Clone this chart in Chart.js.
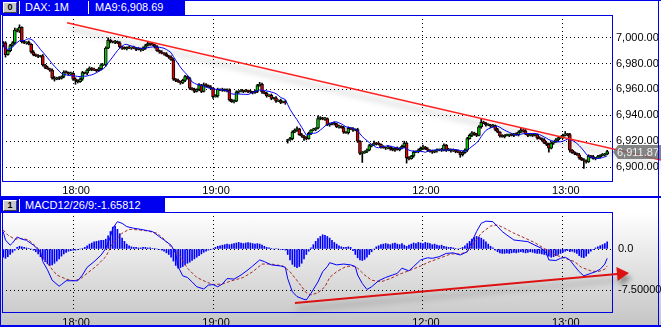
<!DOCTYPE html>
<html>
<head>
<meta charset="utf-8">
<script src="https://cdn.jsdelivr.net/npm/chart.js@4.4.1/dist/chart.umd.min.js"></script>
<style>
  html, body { margin: 0; padding: 0; background: #fff; }
  #wrap { position: relative; width: 661px; height: 327px; overflow: hidden; font-family: "Liberation Sans", Arial, sans-serif; }
  #macdBg { position: absolute; left: 0; top: 211px; width: 661px; height: 116px; background: linear-gradient(#ffffff, #c4c4c4); }
  canvas { position: absolute; left: 0; }
  .bar { position: absolute; left: 0; height: 15px; background: #0000f0; color: #fff; font-size: 11px; line-height: 15px; }
  .bar span { position: absolute; top: 0; white-space: nowrap; }
  .icon { position: absolute; left: 3px; top: 2px; width: 12px; height: 9px; background: #c8c8c8; border: 1px solid; border-color: #fff #404040 #404040 #fff; color: #000; font-size: 9px; line-height: 9px; text-align: center; font-weight: bold; }
  .sep { position: absolute; top: 1px; width: 1px; height: 13px; background: #fff; }
  .line { position: absolute; background: #0000f0; }
</style>
</head>
<body>
<div id="wrap">
  <div id="macdBg"></div>
  <canvas id="priceChart" width="661" height="197" style="top:0"></canvas>
  <canvas id="macdChart" width="661" height="130" style="top:197px"></canvas>
  <div class="bar" style="top:0;width:185px"><div class="icon">0</div><div class="sep" style="left:19px"></div><span style="left:25px">DAX: 1M</span><div class="sep" style="left:88px"></div><span style="left:95px">MA9:6,908.69</span></div>
  <div class="bar" style="top:198px;width:165px"><div class="icon">1</div><div class="sep" style="left:19px"></div><span style="left:25px">MACD12/26/9:-1.65812</span></div>
  <div class="line" style="left:0;top:0;width:661px;height:1px"></div>
  <div class="line" style="left:0;top:0;width:1px;height:327px"></div>
  <div class="line" style="left:658px;top:0;width:1px;height:327px"></div>
  <div class="line" style="left:0;top:196px;width:661px;height:2px"></div>
  <div class="line" style="left:0;top:325px;width:661px;height:2px"></div>
</div>
<script>
// 1-minute closes (index 0 = 17:30)
const closes = [
  6996, 6987, 6990, 6994, 6996, 7006, 7005, 7008, 6997, 6996,
  6996.5, 6995, 6989, 6987, 6986, 6985.5, 6986, 6979, 6977, 6976,
  6975, 6969, 6968, 6969, 6968.5, 6970, 6973.5, 6973, 6972, 6972.5,
  6968, 6967, 6966, 6968, 6973, 6972.5, 6975, 6976.5, 6975.5, 6975,
  6974.5, 6976, 6979, 6979, 6992, 6998, 6997, 6996.5, 6997, 6996,
  6993, 6992, 6991.5, 6992.5, 6992, 6992.5, 6992, 6991, 6991.5, 6990.5,
  6992, 6994, 6995.5, 6995, 6994.5, 6993, 6990, 6989, 6988, 6987.5,
  6986, 6985, 6983, 6968, 6967, 6966, 6965, 6967, 6970, 6968.5,
  6961, 6960, 6958.5, 6960, 6963.5, 6958.5, 6963.5, 6963, 6962, 6961,
  6954.5, 6955, 6960, 6959.5, 6960, 6959, 6959.5, 6952, 6950.5, 6951,
  6958, 6958.5, 6959, 6958.5, 6959, 6958.5, 6958, 6957.5, 6958.5, 6963,
  6964, 6958, 6957, 6955, 6955.5, 6953, 6953.5, 6951, 6951.5, 6950,
  6950.5, 6949.5, 6921, 6922, 6927, 6928.5, 6929.5, 6925, 6924, 6922.5,
  6922, 6926, 6928.5, 6929, 6930, 6937.5, 6938, 6937, 6937.5, 6932.5,
  6933, 6934, 6933.5, 6931, 6931.5, 6930.5, 6927, 6926.5, 6930, 6929.5,
  6928.5, 6929, 6920, 6910.5, 6911, 6912, 6913, 6916.5, 6917, 6918.5,
  6918, 6917.5, 6915.5, 6915, 6914.5, 6915.5, 6914, 6913, 6914.5, 6913.5,
  6914.5, 6916, 6918.5, 6907, 6906.5, 6908.5, 6911.5, 6912, 6913, 6914.5,
  6915.5, 6914, 6913, 6912, 6911.5, 6912.5, 6913, 6913.5, 6913, 6917,
  6913, 6913.5, 6912.5, 6913, 6912, 6911.5, 6909.5, 6911, 6913, 6922,
  6924.5, 6926.5, 6925, 6924.5, 6931, 6934.5, 6934, 6932.5, 6932.5, 6931.5,
  6932, 6929, 6927, 6924, 6923.5, 6924.5, 6924.5, 6925, 6924.5, 6925.5,
  6925, 6927, 6928.5, 6928, 6925.5, 6924.5, 6925, 6924.5, 6925, 6922.5,
  6922, 6921, 6918.5, 6917.5, 6914.5, 6918.5, 6919.5, 6921, 6922.5, 6923,
  6924.5, 6925.5, 6925, 6913, 6911, 6910.5, 6909.5, 6907, 6905.5, 6905,
  6904, 6908.5, 6908, 6906.5, 6907, 6908, 6909, 6909.5, 6910, 6911.87
];
// opening prices where a session starts (otherwise open = previous close)
const sessionOpens = { 0: 6994, 122: 6920.5 };
// wick length above / below the body, in points
const wickHi = [
  1,1,0.5,1,1,1.5,1,2,0.5,1,0.5,1,0.5,1,0.5,1,0.5,1,0.5,1,
  0.5,1,1,0.5,1,0.5,1,1,0.5,1,0.5,1,0.5,1,1,0.5,1,1,0.5,1,
  0.5,1,1,0.5,1,2,1,0.5,1,0.5,1,0.5,1,0.5,1,0.5,1,0.5,1,0.5,
  1,1,1,0.5,1,0.5,1,0.5,1,0.5,1,0.5,1,1,0.5,1,0.5,1,1,0.5,
  1,0.5,1,0.5,1,0.5,1.5,1,0.5,1,0.5,1,1,0.5,1,0.5,1,1,0.5,1,
  1,0.5,1,0.5,1,0.5,1,0.5,1,1,1.5,1,0.5,1,0.5,1,0.5,1,0.5,1,
  0.5,1,0.5,1,1,1,1.5,0.5,1,0.5,1,1,0.5,1,0.5,2,1,0.5,1,0.5,
  1,0.5,1,0.5,1,0.5,1,0.5,1,0.5,1,0.5,1,0.5,1,0.5,1,1,0.5,1.5,
  0.5,1,0.5,1,0.5,1,0.5,1,0.5,1,0.5,1,1.5,0.5,1,0.5,1,0.5,1,1,
  1.5,0.5,1,0.5,1,0.5,1,0.5,1,1,0.5,1,0.5,1,0.5,1,0.5,1,1,1,
  1,1,0.5,1,1,2.5,1,0.5,1,0.5,1,0.5,1,0.5,1,0.5,1,0.5,1,0.5,
  1,1,1.5,0.5,1,0.5,1,0.5,1,0.5,1,0.5,1,0.5,1,1,0.5,1,0.5,1,
  1,2,0.5,1,0.5,1,0.5,1,0.5,1,0.5,1,0.5,1,0.5,1,0.5,1,0.5,1
];
const wickLo = [
  1,2,0.5,1,0.5,1,0.5,1,1,0.5,1,0.5,1,1,0.5,1,0.5,1,1,0.5,
  1,1,1.5,0.5,1,0.5,1,0.5,1,0.5,1,3,1,0.5,1,0.5,1,0.5,1,0.5,
  1,0.5,1,0.5,1,0.5,1,0.5,1,0.5,1,1,0.5,1,0.5,1,0.5,1,0.5,1,
  0.5,1,0.5,1,0.5,1,0.5,1,0.5,1,0.5,1,0.5,1,1,0.5,1,0.5,1,0.5,
  1,0.5,1,0.5,1,1,0.5,1,0.5,1,1.5,0.5,1,0.5,1,0.5,1,1,0.5,1,
  0.5,1,0.5,1,0.5,1,0.5,1,0.5,1,0.5,1,0.5,1,0.5,1,0.5,1,0.5,1,
  0.5,1,2,0.5,1,0.5,1,0.5,1,2,1,0.5,1,0.5,1,0.5,1,0.5,1,0.5,
  1,0.5,1,0.5,1,0.5,1,0.5,1,0.5,1,0.5,1,1,7,0.5,1,0.5,1,0.5,
  1,0.5,1,0.5,1,0.5,1,0.5,1,0.5,1,0.5,1,4,1,0.5,1,0.5,1,0.5,
  1,0.5,1,0.5,1,0.5,1,0.5,1,0.5,1,0.5,1,0.5,1,0.5,2,1,0.5,1,
  0.5,1,0.5,1,0.5,1,0.5,1,0.5,1,0.5,1,0.5,1,0.5,1,0.5,1,0.5,1,
  0.5,1,0.5,1,0.5,1,0.5,1,0.5,1,0.5,1,0.5,1,3,0.5,1,0.5,1,0.5,
  1,0.5,1,1.5,0.5,1,0.5,1,0.5,6,1,0.5,1,0.5,1,0.5,1,0.5,1,0.5
];

const priceTicks = [6900, 6920, 6940, 6960, 6980, 7000];
const timeTickIdx = [30, 90, 180, 240];
const timeTickLabels = ['18:00', '19:00', '12:00', '13:00'];

// MACD line and signal line, sampled at these candle indexes
const macdIdx = [0,1,3,4,6,8,10,13,16,17,19,21,24,25,27,30,32,34,36,39,42,44,46,47,49,51,53,56,59,62,64,67,69,72,74,75,77,79,81,83,86,88,90,92,94,96,99,102,105,107,110,112,115,119,121,122,124,126,129,130,132,135,137,139,140,143,146,149,151,152,154,156,158,161,164,167,169,171,174,176,179,182,184,187,190,193,196,199,201,203,205,207,210,212,214,216,219,222,225,228,231,233,234,237,239,241,243,245,247,249,252,254,256,258,259];
const macdVal = [3.2,1.65,0.7,1.1,2.2,1.8,1.6,0.7,-0.5,-2.3,-3.8,-5.7,-6.8,-6.5,-5.8,-5.8,-5.8,-4.75,-3.35,-2.3,-1.1,0.1,2.25,3.8,5.0,4.7,4.1,3.8,3.6,3.35,3.2,2.25,1.65,0.7,-0.8,-3.2,-4.9,-5.2,-6.0,-6.9,-7.3,-6.6,-6.5,-6.9,-6.4,-5.4,-5.5,-4.75,-3.8,-3.1,-2.0,-2.3,-2.9,-3.1,-3.35,-5.4,-7.8,-8.7,-9.2,-9.3,-8.1,-6.0,-4.15,-3.2,-2.5,-2.9,-2.75,-2.9,-3.2,-4.75,-6.3,-7.4,-6.9,-5.8,-5.2,-4.75,-4.45,-3.5,-4.0,-3.2,-2.0,-1.6,-1.7,-1.4,-0.8,-0.7,-1.1,-0.5,1.35,3.2,4.7,5.1,5.0,4.1,3.2,2.55,1.65,1.5,1.35,0.7,0.1,-0.8,-2.0,-2.1,-1.7,-1.5,-2.0,-3.1,-4.15,-4.9,-4.45,-4.15,-3.7,-2.75,-1.7];
const signalIdx = [0,2,5,8,11,15,17,20,23,27,30,33,36,40,44,47,51,54,58,62,66,69,72,76,79,83,87,90,94,98,103,107,111,115,120,123,127,130,132,135,138,140,143,147,150,152,155,158,162,166,170,175,179,183,187,192,196,199,202,205,209,212,215,219,224,228,232,237,241,245,248,252,255,258,259];
const signalVal = [3.5,2.55,1.8,1.95,1.65,0.1,-1.4,-3.2,-4.75,-5.5,-5.8,-5.5,-4.45,-3.1,-1.4,1.05,2.9,3.6,3.5,3.3,2.9,1.8,0.4,-1.4,-3.5,-5.2,-6.0,-6.5,-6.4,-5.8,-5.2,-4.15,-2.75,-2.75,-3.1,-4.15,-6.3,-8.0,-8.4,-8.0,-6.9,-5.2,-4.15,-3.2,-3.1,-3.5,-4.75,-5.7,-6.0,-5.4,-4.6,-3.8,-3.1,-2.3,-1.7,-0.9,-0.9,-0.5,1.15,2.9,4.2,4.4,3.8,2.9,1.95,1.15,0.1,-1.1,-1.7,-2.3,-3.35,-4.0,-4.15,-3.7,-3.1];
// histogram, one value per candle
const histVal = [
  -1.5,-1.7,-1.4,-1.0,-0.6,-0.2,0.3,0.5,0.4,0.3,0.2,0.1,0,-0.2,-0.5,
  -0.9,-1.4,-1.9,-2.3,-2.7,-3.0,-2.9,-2.6,-2.2,-1.8,-1.3,-0.9,-0.6,-0.4,
  -0.3,-0.2,-0.2,-0.1,0,0.1,0.3,0.6,0.9,1.1,1.3,1.4,1.5,1.6,1.6,1.8,
  2.4,3.2,4.0,4.2,3.6,2.8,2.0,1.4,0.9,0.6,0.4,
  0.3,0.3,0.2,0.2,0.3,0.3,0.2,0.2,0.1,0.1,0,-0.1,-0.2,-0.4,-0.7,
  -1.0,-1.5,-2.2,-3.0,-3.5,-3.4,-3.2,-2.9,-2.6,-2.4,-2.1,-1.8,-1.5,-1.2,-0.9,-0.6,
  -0.4,-0.2,-0.1,0,
  0.3,0.5,0.6,0.7,0.8,0.9,0.8,0.9,1.0,1.1,1.2,1.1,1.0,1.1,1.2,1.1,1.0,0.9,1.0,0.9,0.7,
  0.5,0.3,0.2,0.1,0,0.1,0,-0.1,-0.1,-0.2,
  -1.0,-2.0,-2.8,-3.2,-3.4,-3.2,-2.6,-1.8,-1.0,-0.4,0.2,0.8,
  1.4,1.9,2.3,2.6,2.5,2.3,2.0,1.6,1.2,0.9,0.6,0.4,0.3,0.3,0.4,0.3,
  -0.3,-1.0,-1.6,-2.0,-2.1,-1.9,-1.5,-1.0,-0.5,0,
  0.4,0.6,0.8,0.9,1.0,0.9,0.8,1.0,1.1,0.9,0.8,1.0,0.7,0.5,0.7,0.9,1.1,1.0,1.2,1.1,1.0,
  1.2,1.1,1.0,0.8,0.9,0.7,0.6,0.7,0.5,0.4,0.3,0.3,0.2,0.1,0,0.1,0.3,0.6,
  1.0,1.4,1.8,2.1,2.3,2.2,2.0,1.7,1.3,0.9,0.5,0.2,
  -0.2,-0.5,-0.7,-0.8,-0.8,-0.7,-0.8,-0.7,-0.6,-0.7,-0.6,-0.5,-0.6,-0.7,-0.6,-0.5,-0.6,-0.7,-0.8,-0.8,-0.9,-1.0,-1.1,
  -1.3,-1.5,-1.4,-1.2,-1.0,-0.8,-0.6,-0.4,-0.3,-0.5,-0.4,-0.6,-0.8,
  -1.2,-1.5,-1.6,-1.3,-0.8,-0.4,-0.1,0.2,0.4,0.6,0.8,1.0,1.3
];
const macdTicks = [0, -7.5];
const macdTickLabels = ['0.0', '-7.50000'];

// hand-drawn trend lines, in data units (candle index, value)
const trendTop = [{ x: 27.4, y: 7011.6 }, { x: 282.1, y: 6905.4 }];
const trendMacd = [{ x: 125.1, y: -9.87 }, { x: 264.5, y: -4.52 }];

const opens = closes.map((c, i) => (i in sessionOpens ? sessionOpens[i] : closes[i - 1]));
const highs = closes.map((c, i) => Math.max(opens[i], c) + wickHi[i]);
const lows = closes.map((c, i) => Math.min(opens[i], c) - wickLo[i]);
const ma9 = closes.map((c, i) => {
  const s = closes.slice(Math.max(0, i - 8), i + 1);
  return s.reduce((a, b) => a + b, 0) / s.length;
});

Chart.defaults.font.family = '"Liberation Sans", Arial, sans-serif';
Chart.defaults.font.size = 11;
Chart.defaults.color = '#000';

const fmtPrice = v => v.toFixed(2).replace(/\B(?=(\d{3})+(?!\d))/g, ',');

const shadowPlugin = {
  id: 'shadow',
  beforeDatasetDraw(chart, args) {
    if (chart.data.datasets[args.index].shadow) {
      const ctx = chart.ctx;
      ctx.save();
      ctx.shadowColor = 'rgba(0,0,0,0.35)';
      ctx.shadowBlur = 6;
      ctx.shadowOffsetX = 2;
      ctx.shadowOffsetY = 6;
    }
  },
  afterDatasetDraw(chart, args) {
    if (chart.data.datasets[args.index].shadow) chart.ctx.restore();
  }
};
const framePlugin = {
  id: 'frame',
  beforeDatasetsDraw(chart) {
    const { ctx, chartArea: a } = chart;
    ctx.save();
    ctx.strokeStyle = '#0000e0';
    ctx.lineWidth = 1;
    ctx.strokeRect(a.left + 0.5, a.top + 0.5, a.width - 1, a.height - 1);
    ctx.restore();
  }
};
const priceTagPlugin = {
  id: 'priceTag',
  afterDraw(chart) {
    const { ctx, chartArea: a } = chart;
    const last = closes[closes.length - 1];
    const y = Math.round(chart.scales.y.getPixelForValue(last));
    ctx.save();
    ctx.fillStyle = 'rgba(110,110,110,0.85)';
    ctx.beginPath();
    ctx.moveTo(a.right, y);
    ctx.lineTo(a.right + 5, y - 7);
    ctx.lineTo(661, y - 7);
    ctx.lineTo(661, y + 7);
    ctx.lineTo(a.right + 5, y + 7);
    ctx.closePath();
    ctx.fill();
    ctx.fillStyle = '#f0f0f0';
    ctx.font = '11px "Liberation Sans", Arial, sans-serif';
    ctx.textBaseline = 'middle';
    ctx.fillText(fmtPrice(last), a.right + 4, y + 1);
    ctx.restore();
  }
};
const arrowPlugin = {
  id: 'arrowHead',
  afterDatasetsDraw(chart) {
    const { ctx, scales } = chart;
    const x0 = scales.x.getPixelForValue(trendMacd[0].x), y0 = scales.y.getPixelForValue(trendMacd[0].y);
    const x1 = scales.x.getPixelForValue(trendMacd[1].x), y1 = scales.y.getPixelForValue(trendMacd[1].y);
    const ang = Math.atan2(y1 - y0, x1 - x0);
    ctx.save();
    ctx.shadowColor = 'rgba(0,0,0,0.35)';
    ctx.shadowBlur = 5;
    ctx.shadowOffsetX = 3;
    ctx.shadowOffsetY = 5;
    ctx.translate(x1, y1);
    ctx.rotate(ang);
    ctx.fillStyle = '#dd1111';
    ctx.beginPath();
    ctx.moveTo(9, 0);
    ctx.lineTo(-3, -7);
    ctx.lineTo(-3, 7);
    ctx.closePath();
    ctx.fill();
    ctx.restore();
  }
};

const xAxis = (height, pad) => ({
  type: 'linear',
  min: -0.5,
  max: 261.5,
  offset: false,
  afterBuildTicks: s => { s.ticks = timeTickIdx.map(v => ({ value: v })); },
  afterFit: s => { s.height = height; },
  grid: { color: '#000', drawTicks: false, offset: false },
  border: { display: false, dash: [1, 3] },
  ticks: {
    autoSkip: false,
    maxRotation: 0,
    padding: pad,
    labelOffset: 3,
    callback: v => timeTickLabels[timeTickIdx.indexOf(v)]
  }
});

new Chart(document.getElementById('priceChart'), {
  type: 'bar',
  data: {
    datasets: [
      { type: 'line', label: 'trend', data: trendTop, borderColor: '#ff2020', borderWidth: 1.5, pointRadius: 0, clip: false, shadow: true, order: 0 },
      { type: 'line', label: 'MA9', data: ma9.map((v, i) => ({ x: i, y: v })), borderColor: '#0000ff', borderWidth: 1, pointRadius: 0, order: 1 },
      { type: 'bar', label: 'body', data: closes.map((c, i) => ({ x: i, y: [opens[i], c] })),
        backgroundColor: closes.map((c, i) => (c >= opens[i] ? '#00cc00' : '#dd0000')),
        borderColor: '#000', borderWidth: 1, borderSkipped: false, barThickness: 3, minBarLength: 1, grouped: false, order: 2 },
      { type: 'bar', label: 'wick', data: closes.map((c, i) => ({ x: i, y: [lows[i], highs[i]] })),
        backgroundColor: '#000', barThickness: 1, grouped: false, order: 3 }
    ]
  },
  options: {
    responsive: false,
    animation: false,
    devicePixelRatio: 1,
    layout: { padding: { left: 2, top: 15, right: 0, bottom: 0 } },
    plugins: { legend: { display: false }, tooltip: { enabled: false } },
    scales: {
      x: xAxis(15, 2),
      y: {
        type: 'linear',
        position: 'right',
        min: 6888.4,
        max: 7017.6,
        beginAtZero: false,
        afterBuildTicks: s => { s.ticks = priceTicks.map(v => ({ value: v })); },
        afterFit: s => { s.width = 48; },
        grid: { color: '#000', drawTicks: false },
        border: { display: false, dash: [1, 3] },
        ticks: { padding: 3, callback: v => fmtPrice(v) }
      }
    }
  },
  plugins: [shadowPlugin, framePlugin, priceTagPlugin]
});

new Chart(document.getElementById('macdChart'), {
  type: 'bar',
  data: {
    datasets: [
      { type: 'line', label: 'arrow', data: trendMacd, borderColor: '#dd1111', borderWidth: 2, pointRadius: 0, clip: false, shadow: true, order: 0 },
      { type: 'line', label: 'MACD', data: macdIdx.map((x, i) => ({ x, y: macdVal[i] })), borderColor: '#0000ff', borderWidth: 1, pointRadius: 0, order: 1 },
      { type: 'line', label: 'Signal', data: signalIdx.map((x, i) => ({ x, y: signalVal[i] })), borderColor: '#a52a2a', borderWidth: 1, borderDash: [3, 2], pointRadius: 0, order: 2 },
      { type: 'bar', label: 'Hist', data: histVal.map((v, i) => ({ x: i, y: v })), backgroundColor: '#0000ff', barThickness: 1, grouped: false, order: 3 }
    ]
  },
  options: {
    responsive: false,
    animation: false,
    devicePixelRatio: 1,
    layout: { padding: { left: 2, top: 15, right: 0, bottom: 0 } },
    plugins: { legend: { display: false }, tooltip: { enabled: false } },
    scales: {
      x: xAxis(14, 3),
      y: {
        type: 'linear',
        position: 'right',
        min: -11.7,
        max: 6.77,
        beginAtZero: false,
        afterBuildTicks: s => { s.ticks = macdTicks.map(v => ({ value: v })); },
        afterFit: s => { s.width = 48; },
        grid: { color: '#000', drawTicks: false },
        border: { display: false, dash: [1, 3] },
        ticks: { padding: 5, callback: v => macdTickLabels[macdTicks.indexOf(v)] }
      }
    }
  },
  plugins: [shadowPlugin, framePlugin, arrowPlugin]
});
</script>
</body>
</html>
